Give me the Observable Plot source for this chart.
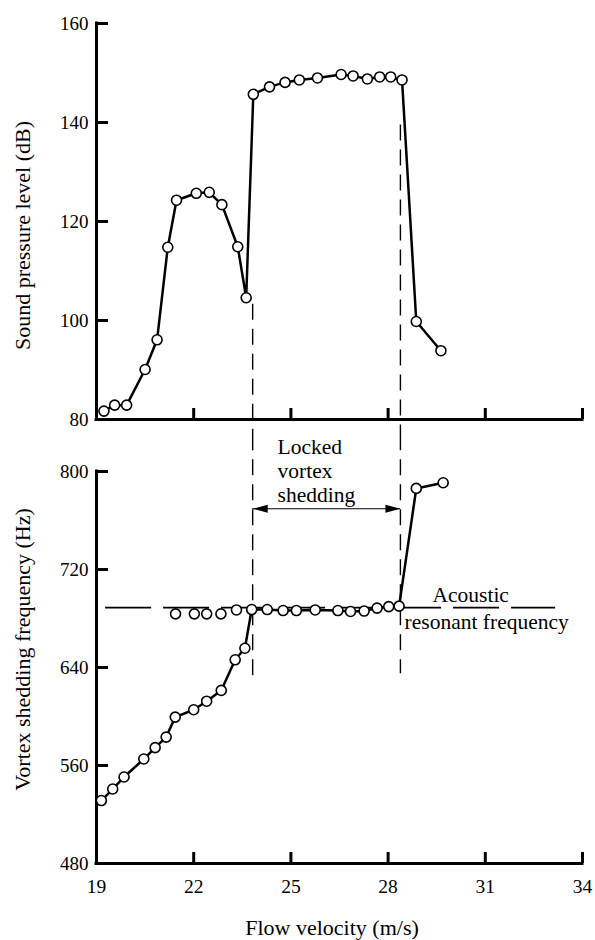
<!DOCTYPE html>
<html>
<head>
<meta charset="utf-8">
<script src="https://cdn.jsdelivr.net/npm/d3@7"></script>
<script src="https://cdn.jsdelivr.net/npm/@observablehq/plot@0.6"></script>
<style>
  html, body { margin: 0; padding: 0; background: #fff; }
  #chart { width: 595px; }
  #chart svg { display: block; }
</style>
</head>
<body>
<div id="chart"></div>
<script>
// ---------- data ----------
// Upper panel: sound pressure level vs flow velocity
const velTop = [19.23, 19.56, 19.93, 20.50, 20.87, 21.20, 21.47, 22.08, 22.48, 22.87, 23.36, 23.62,
                23.84, 24.34, 24.82, 25.26, 25.82, 26.55, 26.92, 27.36, 27.74, 28.08, 28.43, 28.87, 29.63];
const splTop = [81.7, 82.9, 82.9, 90.1, 96.1, 114.8, 124.3, 125.7, 125.9, 123.4, 114.9, 104.6,
                145.7, 147.2, 148.1, 148.6, 149.0, 149.7, 149.4, 148.8, 149.2, 149.2, 148.6, 99.8, 93.9];

// Lower panel: vortex shedding frequency (connected series)
const velFreq = [19.15, 19.50, 19.85, 20.46, 20.81, 21.15, 21.43, 22.00, 22.40, 22.85, 23.28, 23.58,
                 23.79, 24.27, 24.76, 25.17, 25.75, 26.45, 26.84, 27.26, 27.66, 28.02, 28.34, 28.87, 29.70];
const freqHz  = [531.4, 540.8, 550.6, 565.3, 574.6, 583.2, 599.5, 605.5, 612.5, 621.3, 646.3, 655.7,
                 687.3, 687.3, 686.5, 686.5, 687.0, 686.5, 685.7, 686.1, 688.5, 689.7, 690.1, 786.2, 790.8];
// Lower panel: unconnected points near the resonant frequency
const velFree  = [21.44, 22.02, 22.40, 22.84, 23.32];
const freqFree = [683.8, 683.8, 683.8, 683.8, 687.0];

// Lock-in boundaries (dashed verticals)
const lockEdges    = [23.82, 28.38];
const lockTopFrom  = [103.3, 139.5];   // dB where the dashes start in the upper panel
const lockBotTo    = [631, 635];       // Hz where the dashes end in the lower panel
const panelGapTop  = 76.5;             // dB value at the bottom edge of the upper picture
const panelGapBot  = 830;              // Hz value at the top edge of the lower picture

// Acoustic resonant frequency (dashed horizontal)
const resonantHz   = [688.9];
const resonantFrom = [19.28];
const resonantTo   = [33.17];

// Annotations
const arrowHz      = [769.6];
const lockLabel    = ["Locked\nvortex\nshedding"];
const lockLabelPos = [{v: 24.59, hz: 775.3}];
const acoustic     = [{text: "Acoustic", v: 29.37, hz: 693.2}, {text: "resonant frequency", v: 28.51, hz: 671.6}];

// Ticks and titles
const xTicks       = [19, 22, 25, 28, 31, 34];
const yTicksTop    = [80, 100, 120, 140, 160];
const yTicksBottom = [480, 560, 640, 720, 800];
const xTitle       = ["Flow velocity (m/s)"];
const yTitleTop    = ["Sound pressure level (dB)"];
const yTitleBottom = ["Vortex shedding frequency (Hz)"];

// ---------- tables built from the arrays ----------
const topRows  = velTop.map((v, i) => ({v, db: splTop[i]}));
const freqRows = velFreq.map((v, i) => ({v, hz: freqHz[i]}));
const freeRows = velFree.map((v, i) => ({v, hz: freqFree[i]}));
const lockTopRows = lockEdges.map((v, i) => ({v, from: lockTopFrom[i], to: panelGapTop}));
const lockBotRows = lockEdges.map((v, i) => ({v, from: panelGapBot, to: lockBotTo[i]}));
const resRows = resonantHz.map((hz, i) => ({hz, from: resonantFrom[i], to: resonantTo[i]}));
const arrowRows = arrowHz.map(hz => ({hz, from: lockEdges[0], to: lockEdges[1]}));

const FONT = "'Liberation Serif', 'Times New Roman', serif";
const W = 595;
const TICK_X = 11, TICK_Y = 12;
const common = {
  width: W,
  marginLeft: 96,
  marginRight: 13,
  x: {type: "linear", domain: [19, 34]},
  style: {fontFamily: FONT, fontSize: "19px", color: "black", background: "white"}
};

const rightHead = {draw(c) { c.moveTo(0, 0); c.lineTo(-15, -4); c.lineTo(-15, 4); c.closePath(); }};
const leftHead  = {draw(c) { c.moveTo(0, 0); c.lineTo(15, -4); c.lineTo(15, 4); c.closePath(); }};

// inward ticks: outward ticks shifted back inside the frame by their own length
const innerTicksX = ticks => Plot.axisX({ticks, tickSize: TICK_X, dy: -TICK_X, strokeWidth: 3, fill: "none", label: null});
const innerTicksY = ticks => Plot.axisY({ticks, tickSize: TICK_Y, dx: TICK_Y, strokeWidth: 3, fill: "none", label: null});

// ---------- upper panel ----------
const topPlot = Plot.plot({
  ...common,
  height: 435,
  marginTop: 23,
  marginBottom: 16,
  y: {domain: [80, 160]},
  marks: [
    Plot.ruleX(lockTopRows, {x: "v", y1: "from", y2: "to", strokeDasharray: "16,9", strokeWidth: 1.4}),
    innerTicksX(xTicks),
    innerTicksY(yTicksTop),
    Plot.axisY({ticks: yTicksTop, tickSize: 0, tickPadding: 8, fontSize: 19, label: null}),
    Plot.ruleX([19], {strokeWidth: 3, strokeLinecap: "square"}),
    Plot.ruleY([80], {strokeWidth: 3, strokeLinecap: "square"}),
    Plot.line(topRows, {x: "v", y: "db", strokeWidth: 2.5, strokeLinejoin: "round"}),
    Plot.dot(topRows, {x: "v", y: "db", r: 5, fill: "white", stroke: "black", strokeWidth: 1.6}),
    Plot.text(yTitleTop, {text: d => d, frameAnchor: "left", rotate: -90, textAnchor: "middle",
                          lineAnchor: "bottom", dx: -67, dy: 14, fontSize: 22})
  ]
});

// ---------- lower panel ----------
const botPlot = Plot.plot({
  ...common,
  height: 505,
  marginTop: 36,
  marginBottom: 77,
  y: {domain: [480, 800]},
  marks: [
    Plot.ruleY(resRows, {y: "hz", x1: "from", x2: "to", strokeDasharray: "46,12", strokeWidth: 1.8}),
    Plot.ruleX(lockBotRows, {x: "v", y1: "from", y2: "to", strokeDasharray: "16,9", strokeWidth: 1.4}),
    Plot.ruleY(arrowRows, {y: "hz", x1: "from", x2: "to", strokeWidth: 1.2}),
    Plot.dot(arrowRows, {x: "from", y: "hz", symbol: leftHead, fill: "black", stroke: "none"}),
    Plot.dot(arrowRows, {x: "to", y: "hz", symbol: rightHead, fill: "black", stroke: "none"}),
    innerTicksX(xTicks),
    Plot.axisX({ticks: xTicks, tickSize: 0, tickPadding: 16, fontSize: 19.5, label: null}),
    innerTicksY(yTicksBottom),
    Plot.axisY({ticks: yTicksBottom, tickSize: 0, tickPadding: 8, fontSize: 19, label: null}),
    Plot.ruleX([19], {strokeWidth: 3, strokeLinecap: "square"}),
    Plot.ruleY([480], {strokeWidth: 3, strokeLinecap: "square"}),
    Plot.line(freqRows, {x: "v", y: "hz", strokeWidth: 2.5, strokeLinejoin: "round"}),
    Plot.dot(freqRows, {x: "v", y: "hz", r: 5, fill: "white", stroke: "black", strokeWidth: 1.6}),
    Plot.dot(freeRows, {x: "v", y: "hz", r: 5, fill: "white", stroke: "black", strokeWidth: 1.6}),
    Plot.text(lockLabelPos, {x: "v", y: "hz", text: () => lockLabel[0], textAnchor: "start",
                             lineAnchor: "bottom", lineHeight: 1.12, fontSize: 21.5}),
    Plot.text(acoustic, {x: "v", y: "hz", text: "text", textAnchor: "start", lineAnchor: "bottom", fontSize: 21.5}),
    Plot.text(yTitleBottom, {text: d => d, frameAnchor: "left", rotate: -90, textAnchor: "middle",
                             lineAnchor: "bottom", dx: -67, dy: -18, fontSize: 22}),
    Plot.text(xTitle, {text: d => d, frameAnchor: "bottom", textAnchor: "middle",
                       lineAnchor: "bottom", dx: -7.5, dy: 71, fontSize: 22})
  ]
});

const root = document.getElementById("chart");
root.appendChild(topPlot);
root.appendChild(botPlot);
</script>
</body>
</html>
